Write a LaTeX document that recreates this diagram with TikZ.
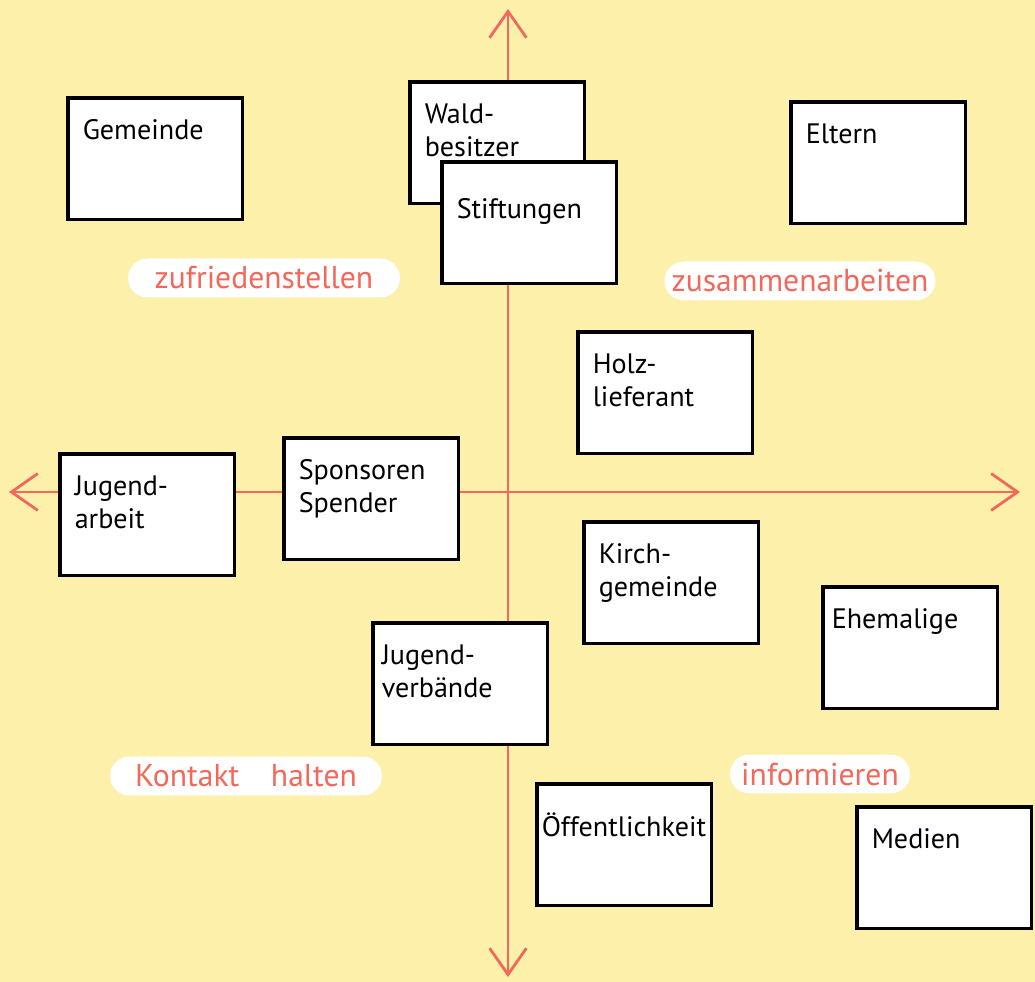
\documentclass[tikz,border=0pt]{standalone}
\usepackage{fontspec}
\setmainfont{PT Sans}
\usetikzlibrary{arrows.meta,positioning}
\definecolor{paper}{RGB}{253,240,170}
\definecolor{coral}{RGB}{242,104,90}

\begin{document}
\begin{tikzpicture}[
    x=0.02cm, y=-0.02cm,
    card/.style={rectangle, draw=black, line width=2pt, fill=white, anchor=north west,
                 align=left, text width=2.9cm, inner xsep=0.3cm, inner ysep=0.3cm,
                 text height=0.54cm, text depth=1.3cm, font=\fontsize{16}{18.5}\selectfont},
    tag/.style={rectangle, rounded corners=0.39cm, fill=white, text=coral,
                minimum height=0.78cm, inner sep=0pt, font=\fontsize{18}{20}\selectfont},
    axis/.style={{Straight Barb[length=15pt,width=21pt]}-{Straight Barb[length=15pt,width=21pt]},
                 coral, line width=1.6pt, line cap=round}]
\fill[paper] (0,0) rectangle (1035,982);
\useasboundingbox (0,0) rectangle (1035,982);
% axes
\coordinate (ytop) at (508,9);
\coordinate (ybot) at (508,977);
\coordinate (xleft) at (9,492);
\coordinate (xright) at (1020,492);
\draw[axis] (ybot) -- (ytop);
\draw[axis] (xleft) -- (xright);
% quadrant labels
\node[tag, minimum width=5.44cm] (zufr) at (264,278) {zufriedenstellen};
\node[tag, minimum width=5.42cm] (zusam) at (800,281) {zusammenarbeiten};
\node[tag, minimum width=5.44cm] (kont) at (246,776) {Kontakt\quad halten};
\node[tag, minimum width=3.6cm] (info) at (820,774) {informieren};
% stakeholders
\node[card] (gem) at (66,96) {Gemeinde};
\node[card] (wald) at (408,80) {Wald-\\besitzer};
\node[card, text height=0.84cm, text depth=1.0cm] (stift) at (440,160) {Stiftungen};
\node[card] (elt) at (789,100) {Eltern};
\node[card] (holz) at (576,330) {Holz-\\lieferant};
\node[card] (jarb) at (58,452) {Jugend-\\arbeit};
\node[card] (spon) at (282,436) {Sponsoren\\Spender};
\node[card] (kirch) at (582,520) {Kirch-\\gemeinde};
\node[card, inner xsep=0.18cm, text width=3.14cm] (ehem) at (821,585) {Ehemalige};
\node[card, inner xsep=0.18cm, text width=3.14cm] (jverb) at (371,621) {Jugend-\\verbände};
\node[card, inner xsep=0.1cm, text width=3.3cm, text height=0.76cm, text depth=1.08cm] (oeff) at (535,782) {Öffentlichkeit};
\node[card] (med) at (855,805) {Medien};
\end{tikzpicture}
\end{document}
